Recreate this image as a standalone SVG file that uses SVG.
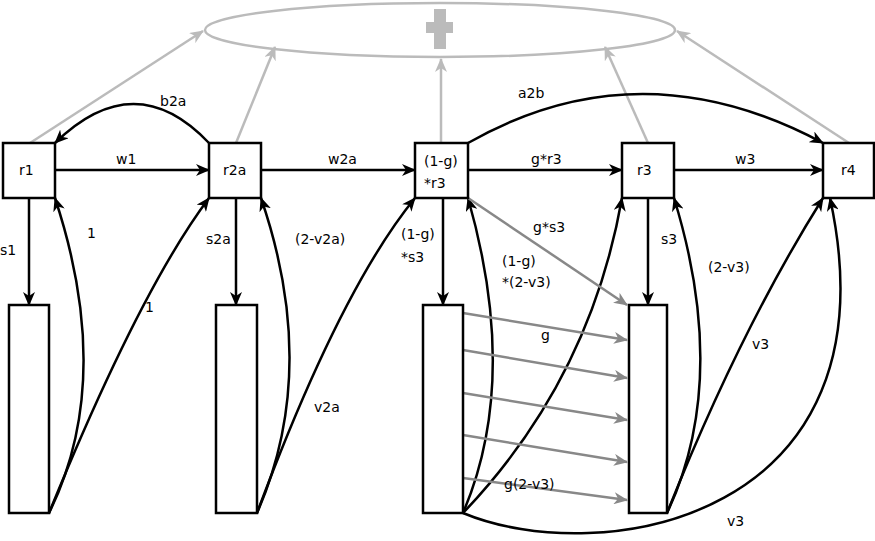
<svg xmlns="http://www.w3.org/2000/svg" width="875" height="541" viewBox="0 0 875 541">
<style>
.b{fill:#fff;stroke:#000;stroke-width:2.5}
.k{fill:none;stroke:#000;stroke-width:2.5;marker-end:url(#ak)}
.g{fill:none;stroke:#888;stroke-width:2.5;marker-end:url(#ag)}
.l{fill:none;stroke:#bbb;stroke-width:2.5;marker-end:url(#al)}
text{font-family:"DejaVu Sans",sans-serif;font-size:14px;fill:#000}
</style>
<defs>
<marker id="ak" markerWidth="14" markerHeight="12" refX="13" refY="6" orient="auto" markerUnits="userSpaceOnUse"><path d="M0,0 L14,6 L0,12 L4,6Z" fill="#000"/></marker>
<marker id="ag" markerWidth="14" markerHeight="12" refX="13" refY="6" orient="auto" markerUnits="userSpaceOnUse"><path d="M0,0 L14,6 L0,12 L4,6Z" fill="#888"/></marker>
<marker id="al" markerWidth="14" markerHeight="12" refX="13" refY="6" orient="auto" markerUnits="userSpaceOnUse"><path d="M0,0 L14,6 L0,12 L4,6Z" fill="#bbb"/></marker>
</defs>
<g id="death"><ellipse cx="440" cy="30" rx="235" ry="27" fill="none" stroke="#bbb" stroke-width="2.5"/>
<path d="M434,9 h12 v13 h7 v11 h-7 v16 h-12 v-16 h-8 v-11 h8z" fill="#bbb"/></g>
<g id="connectors">
<path class="l" d="M30,143 L203,31"/>
<path class="l" d="M236,143 L275,47"/>
<path class="l" d="M441,143 L441,59"/>
<path class="l" d="M648,143 L605,47"/>
<path class="l" d="M849,143 L677,31"/>
<path class="k" d="M55,170 H209"/>
<path class="k" d="M261,170 H415"/>
<path class="k" d="M468,170 H622"/>
<path class="k" d="M674,170 H823"/>
<path class="k" d="M209,143 Q135,65 55,143"/>
<path class="k" d="M468,143 Q640,45 823,143"/>
<path class="k" d="M29,198 V305"/>
<path class="k" d="M236,198 V305"/>
<path class="k" d="M443,198 V305"/>
<path class="k" d="M648,198 V305"/>
<path class="k" d="M49,513 Q115,380 55,198"/>
<path class="k" d="M49,513 Q140,290 209,198"/>
<path class="k" d="M257,513 Q320,370 261,198"/>
<path class="k" d="M257,513 Q340,290 415,198"/>
<path class="k" d="M463,513 Q520,380 468,198"/>
<path class="k" d="M463,513 Q590,380 622,198"/>
<path class="k" d="M667,513 Q730,380 674,198"/>
<path class="k" d="M667,513 Q740,330 823,198"/>
<path class="k" d="M463,513 C600,570 900,520 830,198"/>
<path class="g" d="M468,198 L627,305"/>
<path class="g" d="M463,313 L627,340"/>
<path class="g" d="M463,350 L627,378"/>
<path class="g" d="M463,393 L627,420"/>
<path class="g" d="M463,435 L627,462"/>
<path class="g" d="M463,478 L627,500"/>
</g>
<g id="labels">
<text x="160" y="106">b2a</text><text x="518" y="98">a2b</text>
<text x="116" y="164">w1</text><text x="328" y="164">w2a</text><text x="531" y="164">g*r3</text><text x="735" y="164">w3</text>
<text x="0" y="255">s1</text><text x="206" y="244">s2a</text><text x="661" y="244">s3</text>
<text x="87" y="238">1</text><text x="145" y="312">1</text>
<text x="295" y="244">(2-v2a)</text><text x="314" y="412">v2a</text>
<text x="401" y="239">(1-g)</text><text x="401" y="262">*s3</text>
<text x="502" y="266">(1-g)</text><text x="502" y="287">*(2-v3)</text>
<text x="533" y="232">g*s3</text><text x="708" y="272">(2-v3)</text><text x="752" y="349">v3</text>
<text x="541" y="340">g</text><text x="504" y="489">g(2-v3)</text><text x="727" y="526">v3</text>
</g>
<g id="r1"><rect class="b" x="3" y="143" width="52" height="55"/><text x="19" y="175">r1</text></g>
<g id="r2a"><rect class="b" x="209" y="143" width="52" height="55"/><text x="223" y="175">r2a</text></g>
<g id="r3g"><rect class="b" x="415" y="143" width="53" height="55"/><text x="424" y="166">(1-g)</text><text x="424" y="188">*r3</text></g>
<g id="r3"><rect class="b" x="622" y="143" width="52" height="55"/><text x="637" y="175">r3</text></g>
<g id="r4"><rect class="b" x="823" y="143" width="51" height="55"/><text x="841" y="175">r4</text></g>
<g id="c1"><rect class="b" x="9" y="305" width="40" height="208"/></g>
<g id="c2"><rect class="b" x="216" y="305" width="41" height="208"/></g>
<g id="c3"><rect class="b" x="423" y="305" width="40" height="208"/></g>
<g id="c4"><rect class="b" x="629" y="305" width="38" height="208"/></g>
</svg>
